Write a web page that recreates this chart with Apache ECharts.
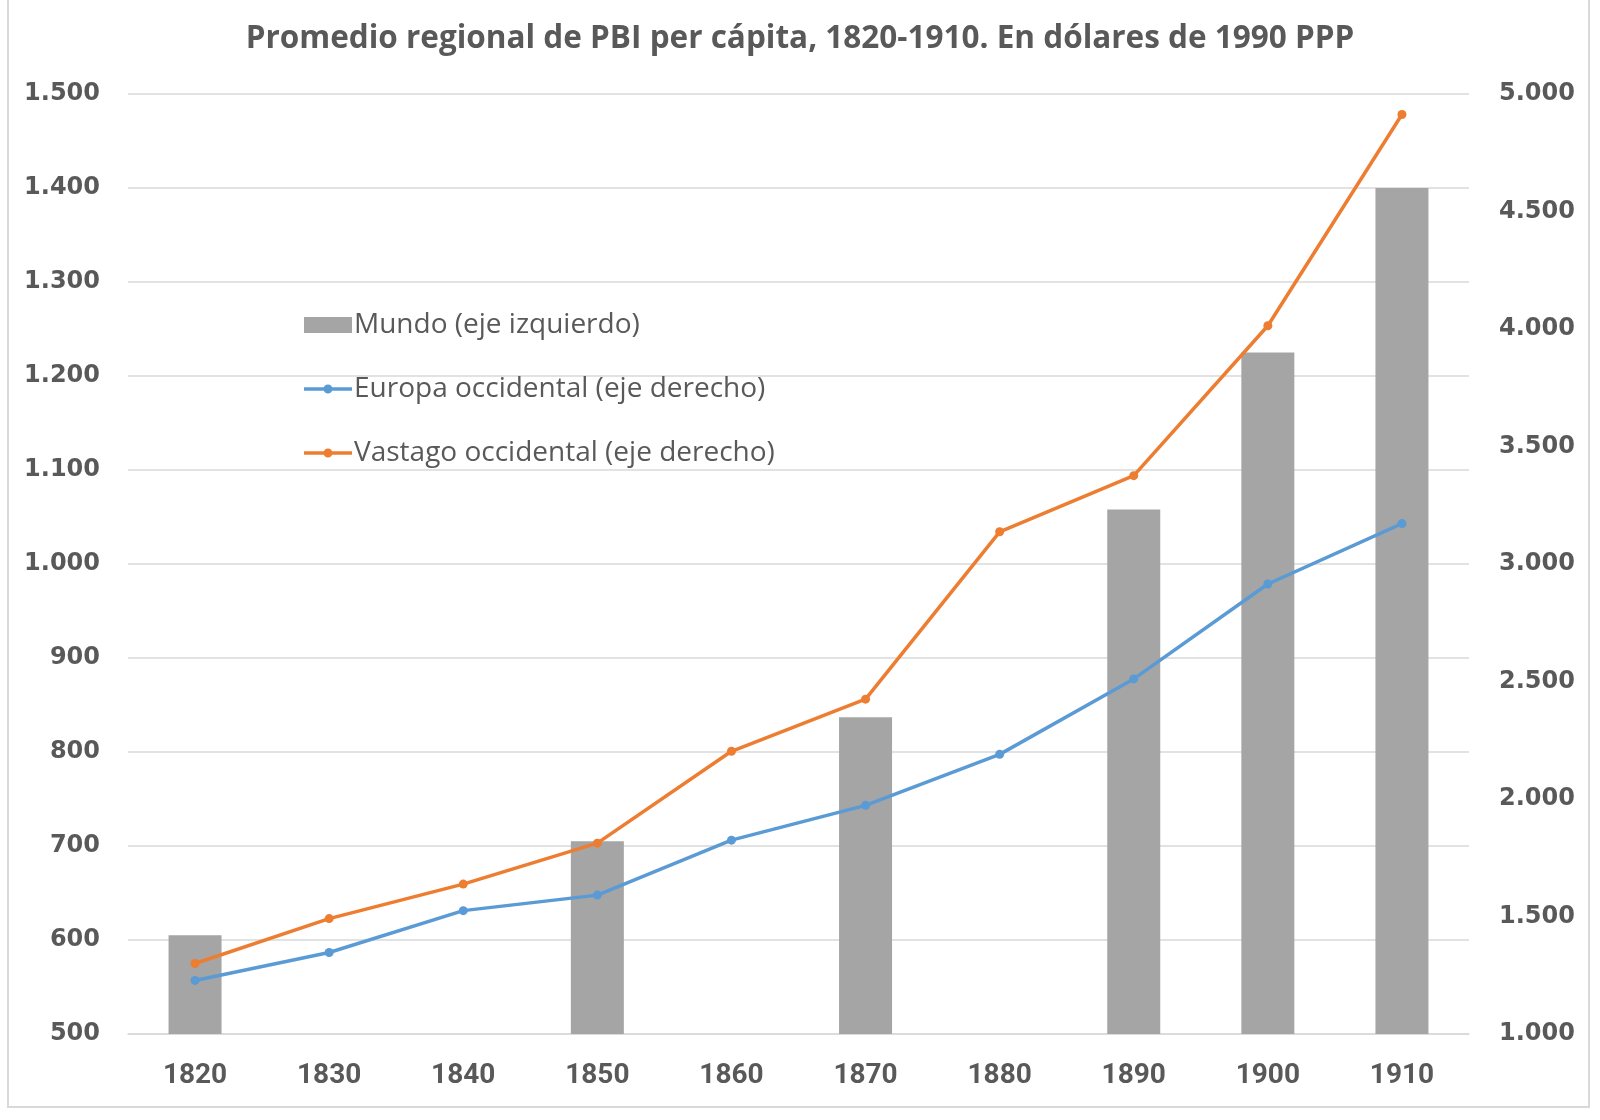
<!DOCTYPE html>
<html>
<head>
<meta charset="utf-8">
<script src="https://cdn.jsdelivr.net/npm/echarts@6/dist/echarts.min.js"></script>
<style>
  html, body { margin: 0; padding: 0; background: #fff; }
  #chart { width: 1600px; height: 1120px; }
</style>
</head>
<body>
<div id="chart"></div>
<script>
const years = ['1820', '1830', '1840', '1850', '1860', '1870', '1880', '1890', '1900', '1910'];
// Mundo, eje izquierdo (solo algunos años)
const mundo = [605, null, null, 705, null, 837, null, 1058, 1225, 1400];
// Europa occidental, eje derecho
const europa = [1228, 1347, 1525, 1591, 1825, 1973, 2190, 2511, 2915, 3172];
// Vastago occidental, eje derecho
const vastago = [1300, 1491, 1638, 1812, 2203, 2425, 3137, 3376, 4014, 4913];
const names = ['Mundo (eje izquierdo)', 'Europa occidental (eje derecho)', 'Vastago occidental (eje derecho)'];

const grey = '#595959';
const fmt = v => String(v).replace(/\B(?=(\d{3})+(?!\d))/g, '.');
// línea con punto para la leyenda
const lineIcon = 'path://M0,6.2H48V9.8H0Z M24,3.5A4.5,4.5 0 1,1 23.99,3.5Z';

const chart = echarts.init(document.getElementById('chart'));

chart.setOption({
  backgroundColor: '#fff',
  animation: false,
  title: {
    text: 'Promedio regional de PBI per cápita, 1820-1910. En dólares de 1990 PPP',
    left: 'center',
    top: 18,
    textStyle: { fontFamily: 'Open Sans', fontWeight: 'bold', fontSize: 31.5, color: grey }
  },
  legend: {
    orient: 'vertical',
    left: 299,
    top: 306,
    itemGap: 36,
    itemWidth: 48,
    itemHeight: 16,
    textStyle: { fontFamily: 'Open Sans', fontSize: 28, color: grey, padding: [0, 0, 0, -3] },
    data: [
      { name: names[0], icon: 'rect' },
      { name: names[1], icon: lineIcon },
      { name: names[2], icon: lineIcon }
    ]
  },
  grid: { left: 128, right: 131, top: 94, bottom: 86 },
  xAxis: {
    type: 'category',
    data: years,
    axisTick: { show: false },
    axisLine: { lineStyle: { color: '#d9d9d9', width: 1.5 } },
    axisLabel: { margin: 28, fontFamily: 'Roboto', fontWeight: 'bold', fontSize: 28, color: grey }
  },
  yAxis: [
    {
      type: 'value',
      min: 500, max: 1500, interval: 100,
      axisLine: { show: false },
      axisTick: { show: false },
      splitLine: { lineStyle: { color: '#d9d9d9', width: 1.5 } },
      axisLabel: { margin: 28, fontFamily: 'DejaVu Sans', fontWeight: 'bold', fontSize: 24, color: grey, formatter: fmt }
    },
    {
      type: 'value',
      min: 1000, max: 5000, interval: 500,
      axisLine: { show: false },
      axisTick: { show: false },
      splitLine: { show: false },
      axisLabel: { margin: 30, fontFamily: 'DejaVu Sans', fontWeight: 'bold', fontSize: 24, color: grey, formatter: fmt }
    }
  ],
  series: [
    {
      name: names[0],
      type: 'bar',
      yAxisIndex: 0,
      barWidth: 53,
      itemStyle: { color: '#a5a5a5' },
      data: mundo
    },
    {
      name: names[1],
      type: 'line',
      yAxisIndex: 1,
      symbol: 'circle',
      symbolSize: 9,
      lineStyle: { color: '#5b9bd5', width: 3.5 },
      itemStyle: { color: '#5b9bd5' },
      data: europa
    },
    {
      name: names[2],
      type: 'line',
      yAxisIndex: 1,
      symbol: 'circle',
      symbolSize: 9,
      lineStyle: { color: '#ed7d31', width: 3.5 },
      itemStyle: { color: '#ed7d31' },
      data: vastago
    }
  ],
  graphic: [
    {
      type: 'rect',
      shape: { x: 8, y: -5, width: 1581, height: 1112 },
      style: { fill: 'none', stroke: '#d9d9d9', lineWidth: 2 },
      silent: true
    }
  ]
});
</script>
</body>
</html>
